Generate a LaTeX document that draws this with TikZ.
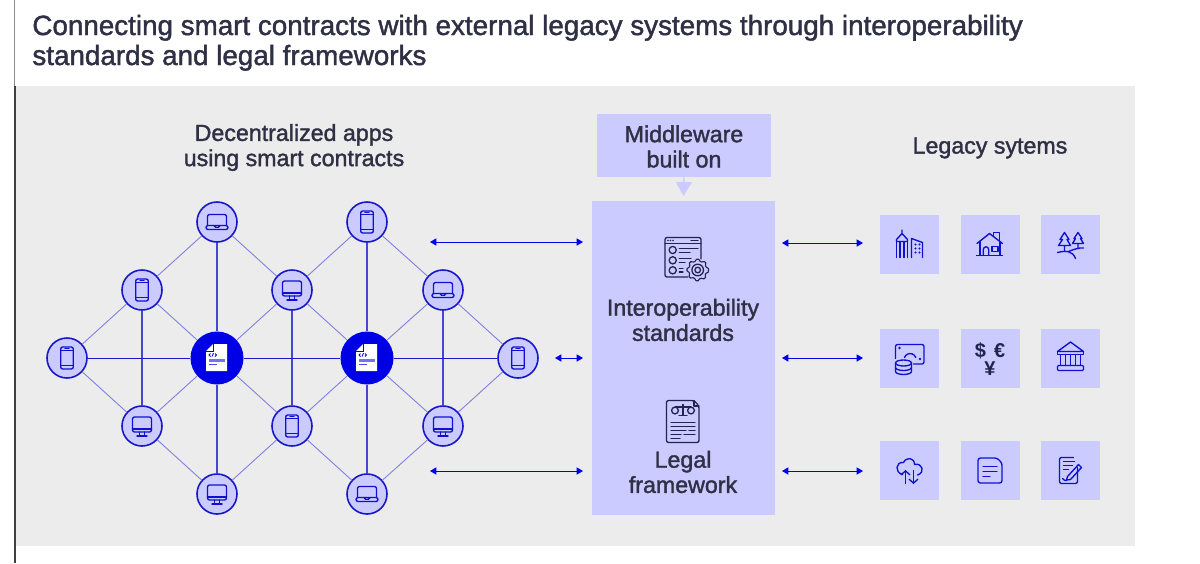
\documentclass[tikz,border=0pt]{standalone}
\usepackage{fontspec}
\setmainfont{Liberation Sans}
\newfontfamily\medfont[FakeBold=1.5]{Liberation Sans}
\usetikzlibrary{arrows.meta}
\definecolor{panelgrey}{HTML}{ECECEC}
\definecolor{lilac}{HTML}{CBCBFF}
\definecolor{hubblue}{HTML}{0000E6}
\definecolor{linkblue}{HTML}{1818C8}
\definecolor{inkdark}{HTML}{2F2F45}
\definecolor{iconnavy}{HTML}{23234F}
\definecolor{iconblue}{HTML}{1010D0}
\tikzset{
  device/.style={circle,draw=linkblue,fill=lilac,line width=0.8pt,minimum size=20pt,inner sep=0pt},
  hub/.style={circle,fill=hubblue,minimum size=26.5pt,inner sep=0pt},
  diag/.style={draw=linkblue!55!white,line width=0.45pt},
  vert/.style={draw=linkblue!80!white,line width=0.7pt},
  horiz/.style={draw=linkblue,line width=0.5pt},
  lilacbox/.style={fill=lilac,inner sep=0pt,outer sep=0pt},
  cell/.style={lilacbox,minimum size=29.5pt},
  label/.style={text=inkdark,align=center,font=\medfont\fontsize{11.6}{12.6}\selectfont,inner sep=0pt},
  titletext/.style={anchor=base west,inner sep=0pt,text=inkdark,font=\medfont\fontsize{13.9}{15}\selectfont},
  biarrow/.style={{Triangle[width=3.6pt,length=3.2pt]}-{Triangle[width=3.6pt,length=3.2pt]},draw=hubblue,fill=hubblue,line width=0.5pt},
  ico/.style={draw=iconblue,line width=0.68pt,line cap=round,line join=round},
  darkico/.style={draw=iconnavy,line width=0.65pt,line cap=round,line join=round},
  pics/phone/.style={code={
    \draw[ico,rounded corners=1pt] (-6.3,-11) rectangle (6.3,11);
    \draw[ico] (-6.3,-7.5) -- (6.3,-7.5) (-6.3,7.5) -- (6.3,7.5) (-2,-9.3) -- (2,-9.3);
  }},
  pics/desktop/.style={code={
    \draw[ico,rounded corners=1pt] (-9.5,-9) rectangle (9.5,6);
    \draw[ico] (-9.5,3) -- (9.5,3) (-2.5,6) -- (-2.5,10) (2.5,6) -- (2.5,10) (-5,10) -- (5,10);
  }},
  pics/laptop/.style={code={
    \draw[ico,rounded corners=1pt] (-9.5,3.5) -- (-9.5,-7.5) -- (9.5,-7.5) -- (9.5,3.5);
    \draw[ico,rounded corners=1pt] (-11,3.5) rectangle (11,7.5);
    \draw[ico] (-3,3.5) -- (-1.5,5.2) -- (1.5,5.2) -- (3,3.5);
  }},
  pics/contract/.style={code={
    \fill[white] (-4,-14) -- (10,-14) -- (10,13) -- (-11,13) -- (-11,-7) -- cycle;
    \draw[hubblue,line width=0.5pt] (-4,-14) -- (-4,-7) -- (-11,-7);
    \draw[hubblue,line width=0.45pt] (-6.5,-4.5) -- (-8,-3) -- (-6.5,-1.5) (-5,-1.5) -- (-3.5,-4.8) (-2,-4.5) -- (-0.5,-3) -- (-2,-1.5);
    \fill[hubblue!55!white] (-8,1) rectangle (8,4);
    \fill[hubblue!70!white] (-8,6) rectangle (0,7.2);
  }}
}
\begin{document}
\begin{tikzpicture}[x=0.5pt,y=-0.5pt]
\useasboundingbox (0,0) rectangle (1200,563);
\fill[white] (0,0) rectangle (1200,563);
% frame and panel
\fill[panelgrey] (15,86) rectangle (1135,546);
\fill[black!45] (13.5,0) rectangle (15,86);
\fill[black!75] (13.5,86) rectangle (16,563);
% title
\node[titletext] (title1) at (32,35) {Connecting smart contracts with external legacy systems through interoperability};
\node[titletext] (title2) at (32,65) {standards and legal frameworks};
% headings
\node[label] (dapps) at (294,147.5) {Decentralized apps\\using smart contracts};
\node[label] (legacy) at (990,148) {Legacy sytems};
% middle boxes
\node[lilacbox,minimum width=87pt,minimum height=31.5pt] (mw) at (684,145.5) {};
\node[lilacbox,minimum width=91.5pt,minimum height=157pt] (big) at (683.5,358) {};
\node[label] (mwtext) at (684,146.5) {Middleware\\built on};
\node[label] (interop) at (683,320) {Interoperability\\standards};
\node[label] (legal) at (683,472) {Legal\\framework};
\draw[lilac,line width=0.7pt,shorten >=2.5pt,-{Triangle[width=8pt,length=7pt]}] (mw.south) -- (big.north);
% network
\node[device] (a1) at (217,222) {};
\node[device] (a2) at (367,222) {};
\node[device] (b1) at (142,290) {};
\node[device] (b2) at (292,290) {};
\node[device] (b3) at (443,290) {};
\node[device] (c1) at (67,358) {};
\node[hub] (h1) at (217,358) {};
\node[hub] (h2) at (367,358) {};
\node[device] (c2) at (518,358) {};
\node[device] (d1) at (142,426) {};
\node[device] (d2) at (292,426) {};
\node[device] (d3) at (443,426) {};
\node[device] (e1) at (217,494) {};
\node[device] (e2) at (367,494) {};
\foreach \p/\q in {a1/b1,a1/b2,a2/b2,a2/b3,b1/c1,c1/d1,d1/e1,e1/d2,d2/e2,e2/d3,d3/c2,c2/b3,h1/b1,h1/b2,h1/d1,h1/d2,h2/b2,h2/b3,h2/d2,h2/d3}
  \draw[diag] (\p) -- (\q);
\foreach \p/\q in {a1/h1,h1/e1,a2/h2,h2/e2,b1/d1,b2/d2,b3/d3}
  \draw[vert] (\p) -- (\q);
\foreach \p/\q in {c1/h1,h1/h2,h2/c2}
  \draw[horiz] (\p) -- (\q);
\pic at (a1) {laptop};
\pic at (a2) {phone};
\pic at (b1) {phone};
\pic at (b2) {desktop};
\pic at (b3) {laptop};
\pic at (c1) {phone};
\pic at (c2) {phone};
\pic at (d1) {desktop};
\pic at (d2) {phone};
\pic at (d3) {desktop};
\pic at (e1) {desktop};
\pic at (e2) {laptop};
\pic at (h1) {contract};
\pic at (h2) {contract};
% arrows
\coordinate (la1) at (430,242); \coordinate (ra1) at (583,242);
\coordinate (la2) at (555,358); \coordinate (ra2) at (583,358);
\coordinate (la3) at (430,471); \coordinate (ra3) at (583,471);
\coordinate (lb1) at (782,243); \coordinate (rb1) at (863,243);
\coordinate (lb2) at (782,358); \coordinate (rb2) at (863,358);
\coordinate (lb3) at (782,471); \coordinate (rb3) at (863,471);
\foreach \i in {1,2,3} {
  \draw[biarrow] (la\i) -- (ra\i);
  \draw[biarrow] (lb\i) -- (rb\i);
}
% legacy cells
\node[cell] (s11) at (909.5,244.5) {};
\node[cell] (s12) at (990,244.5) {};
\node[cell] (s13) at (1070.5,244.5) {};
\node[cell] (s21) at (909.5,358.5) {};
\node[cell] (s22) at (990,358.5) {};
\node[cell] (s23) at (1070.5,358.5) {};
\node[cell] (s31) at (909.5,470.5) {};
\node[cell] (s32) at (990,470.5) {};
\node[cell] (s33) at (1070.5,470.5) {};
% buildings
\begin{scope}[shift={(s11)}]
  \draw[ico] (-13,-3) -- (-13,13) (-9.5,-3) -- (-9.5,13) (-5.5,-3) -- (-5.5,13) (-2,-3) -- (-2,13);
  \draw[ico] (-13,-3) -- (-13,-5) -- (-7.5,-11) -- (-2,-5) -- (-2,-3) -- cycle (-7.5,-11) -- (-7.5,-14.5);
  \draw[ico] (2,13) -- (2,-6) -- (13,-2) -- (13,13);
  \foreach \x in {6,10} \foreach \y in {0,4,8} \fill[iconblue] (\x,\y) circle (0.55pt);
\end{scope}
% house
\begin{scope}[shift={(s12)}]
  \draw[ico] (-13,-1) -- (-0.5,-11) -- (12.5,-1);
  \draw[ico] (3.5,-8.5) -- (3.5,-12) -- (9.5,-12) -- (9.5,-4);
  \draw[ico] (-10,-3) -- (-10,11) (10,-3) -- (10,11) (-13.5,11.3) -- (12.5,11.3);
  \draw[ico] (-6.7,11) -- (-6.7,5) arc[start angle=180,end angle=360,radius=2.7] -- (-1.3,11);
  \draw[ico] (2,2.3) rectangle (8,7.3);
\end{scope}
% trees
\begin{scope}[shift={(s13)}]
  \draw[ico] (-6,-12) -- (-10.5,-5) -- (-8,-5) -- (-12,1) -- (0,1) -- (-3.5,-5) -- (-1.5,-5) -- cycle (-6,1) -- (-6,7);
  \draw[ico] (7.5,-12) -- (3.5,-6) -- (5,-6) -- (2,-1) -- (13,-1) -- (10,-6) -- (11.5,-6) -- cycle (7.5,-1) -- (7.5,4);
  \draw[ico] (-13,8) .. controls (-5,6) and (2,6) .. (5,14);
  \draw[ico] (-2,7) .. controls (3,5) and (8,3) .. (13,3.5);
\end{scope}
% cash and coins
\begin{scope}[shift={(s21)}]
  \draw[ico,rounded corners=1pt] (-14,0) -- (-14,-14) -- (14.5,-14) -- (14.5,5.5) -- (4,5.5);
  \draw[ico] (-5,-1) arc[start angle=200,end angle=340,radius=6];
  \fill[iconblue] (-10,-10.5) circle (0.7pt) (10.5,0.5) circle (0.7pt);
  \fill[lilac] (-14,4) rectangle (2,15);
  \draw[ico] (-6,4.5) ellipse[x radius=8,y radius=3];
  \draw[ico] (-14,4.5) -- (-14,13) arc[start angle=180,end angle=0,x radius=8,y radius=3] -- (2,4.5);
  \draw[ico] (-14,9) arc[start angle=180,end angle=0,x radius=8,y radius=3];
\end{scope}
% currencies
\node[inner sep=0pt,text=iconnavy,font=\bfseries\fontsize{10}{10}\selectfont] (usdeur) at (990,350.5) {\$\hspace{4pt}€};
\node[inner sep=0pt,text=iconnavy,font=\bfseries\fontsize{10}{10}\selectfont] (yen) at (990,369) {¥};
% bank
\begin{scope}[shift={(s23)}]
  \draw[ico] (-13,-7) -- (0,-16.5) -- (13,-7) -- cycle;
  \draw[ico] (-13,-7) rectangle (13,-4);
  \draw[ico] (-10,-4) -- (-10,7) (-5,-4) -- (-5,7) (0,-4) -- (0,7) (5,-4) -- (5,7) (10,-4) -- (10,7);
  \draw[ico,rounded corners=0.5pt] (-13,7) rectangle (13,12);
\end{scope}
% cloud
\begin{scope}[shift={(s31)}]
  \draw[ico] (-7,4) .. controls (-15,2) and (-14,-9) .. (-6,-8) .. controls (-3,-14) and (5,-13) .. (5,-6) .. controls (13,-8) and (16,2) .. (8,4.5);
  \draw[ico,-{Straight Barb[length=2pt,width=4.5pt]}] (-4,13) -- (-4,-0.5);
  \draw[ico,-{Straight Barb[length=2pt,width=4.5pt]}] (4,0) -- (4,13.5);
\end{scope}
% document
\begin{scope}[shift={(s32)}]
  \draw[ico,rounded corners=1.2pt] (-12,-12.5) -- (7,-12.5) -- (12,-7.5) -- (12,12.5) -- (-12,12.5) -- cycle;
  \draw[ico] (-7,-4) -- (7,-4) (-7,1) -- (7,1) (-7,6) -- (0,6);
\end{scope}
% signed document
\begin{scope}[shift={(s33)}]
  \draw[ico,rounded corners=1pt] (7,-3) -- (7,13) -- (-11,13) -- (-11,-13) -- (3,-13);
  \draw[ico] (-7,-9) -- (4,-9) (-7,-5) -- (2,-5) (-7,-1) -- (-2,-1);
  \draw[ico] (-3,6) -- (8,-6) -- (11,-3) -- (0,9) -- (-4,9.5) -- cycle;
  \draw[ico] (-8,8) .. controls (-7,11) and (-5,9) .. (-4,10);
\end{scope}
% interoperability icon
\begin{scope}[shift={(683,257)}]
  \draw[darkico,rounded corners=1pt] (5,20) -- (-18,20) -- (-18,-19.5) -- (18,-19.5) -- (18,2);
  \draw[darkico] (-18,-13.5) -- (18,-13.5);
  \foreach \x in {-15,-12.5,-10} \fill[iconnavy] (\x,-16.5) circle (0.4pt);
  \draw[darkico] (8,-16.5) -- (15,-16.5);
  \foreach \y in {-7,3.3,13.3} \draw[darkico] (-10.3,\y) circle (1.8pt);
  \draw[darkico] (-3.7,-8.5) -- (15,-8.5) (-3.7,-4.5) -- (7,-4.5) (-3.7,1.5) -- (8,1.5) (-3.7,5.5) -- (2,5.5) (-3.7,11.5) -- (0,11.5) (-3.7,15) -- (0,15);
  \fill[lilac] (14.7,13) circle (5.4pt);
  \draw[darkico,line width=0.55pt] plot[smooth cycle,samples=33,domain=0:352,variable=\a] ({14.7+(9+1.8*(cos(8*\a)>0))*cos(\a)},{13+(9+1.8*(cos(8*\a)>0))*sin(\a)});
  \draw[darkico] (14.7,13) circle (2.9pt) (14.7,13) circle (1.4pt);
\end{scope}
% legal icon
\begin{scope}[shift={(683,421.5)}]
  \draw[darkico,fill=none,rounded corners=1pt] (-16.5,-21) -- (11,-21) -- (16,-15.5) -- (16,21) -- (-16.5,21) -- cycle;
  \draw[darkico] (11,-21) -- (11,-15.5) -- (16,-15.5);
  \draw[darkico] (0,-17) -- (0,-6.5) (-4,-6) -- (4,-6) (-8,-14.5) -- (8,-14.5);
  \draw[darkico] (-8,-11) circle (1.7pt) (8,-11) circle (1.7pt);
  \draw[darkico] (-12,0.8) -- (12,0.8) (-12,5.2) -- (12,5.2) (-12,9.2) -- (3,9.2) (6,9.2) -- (12,9.2) (-12,12.8) -- (-2,12.8) (1,12.8) -- (12,12.8) (-12,16.8) -- (-3,16.8);
\end{scope}
\end{tikzpicture}
\end{document}
